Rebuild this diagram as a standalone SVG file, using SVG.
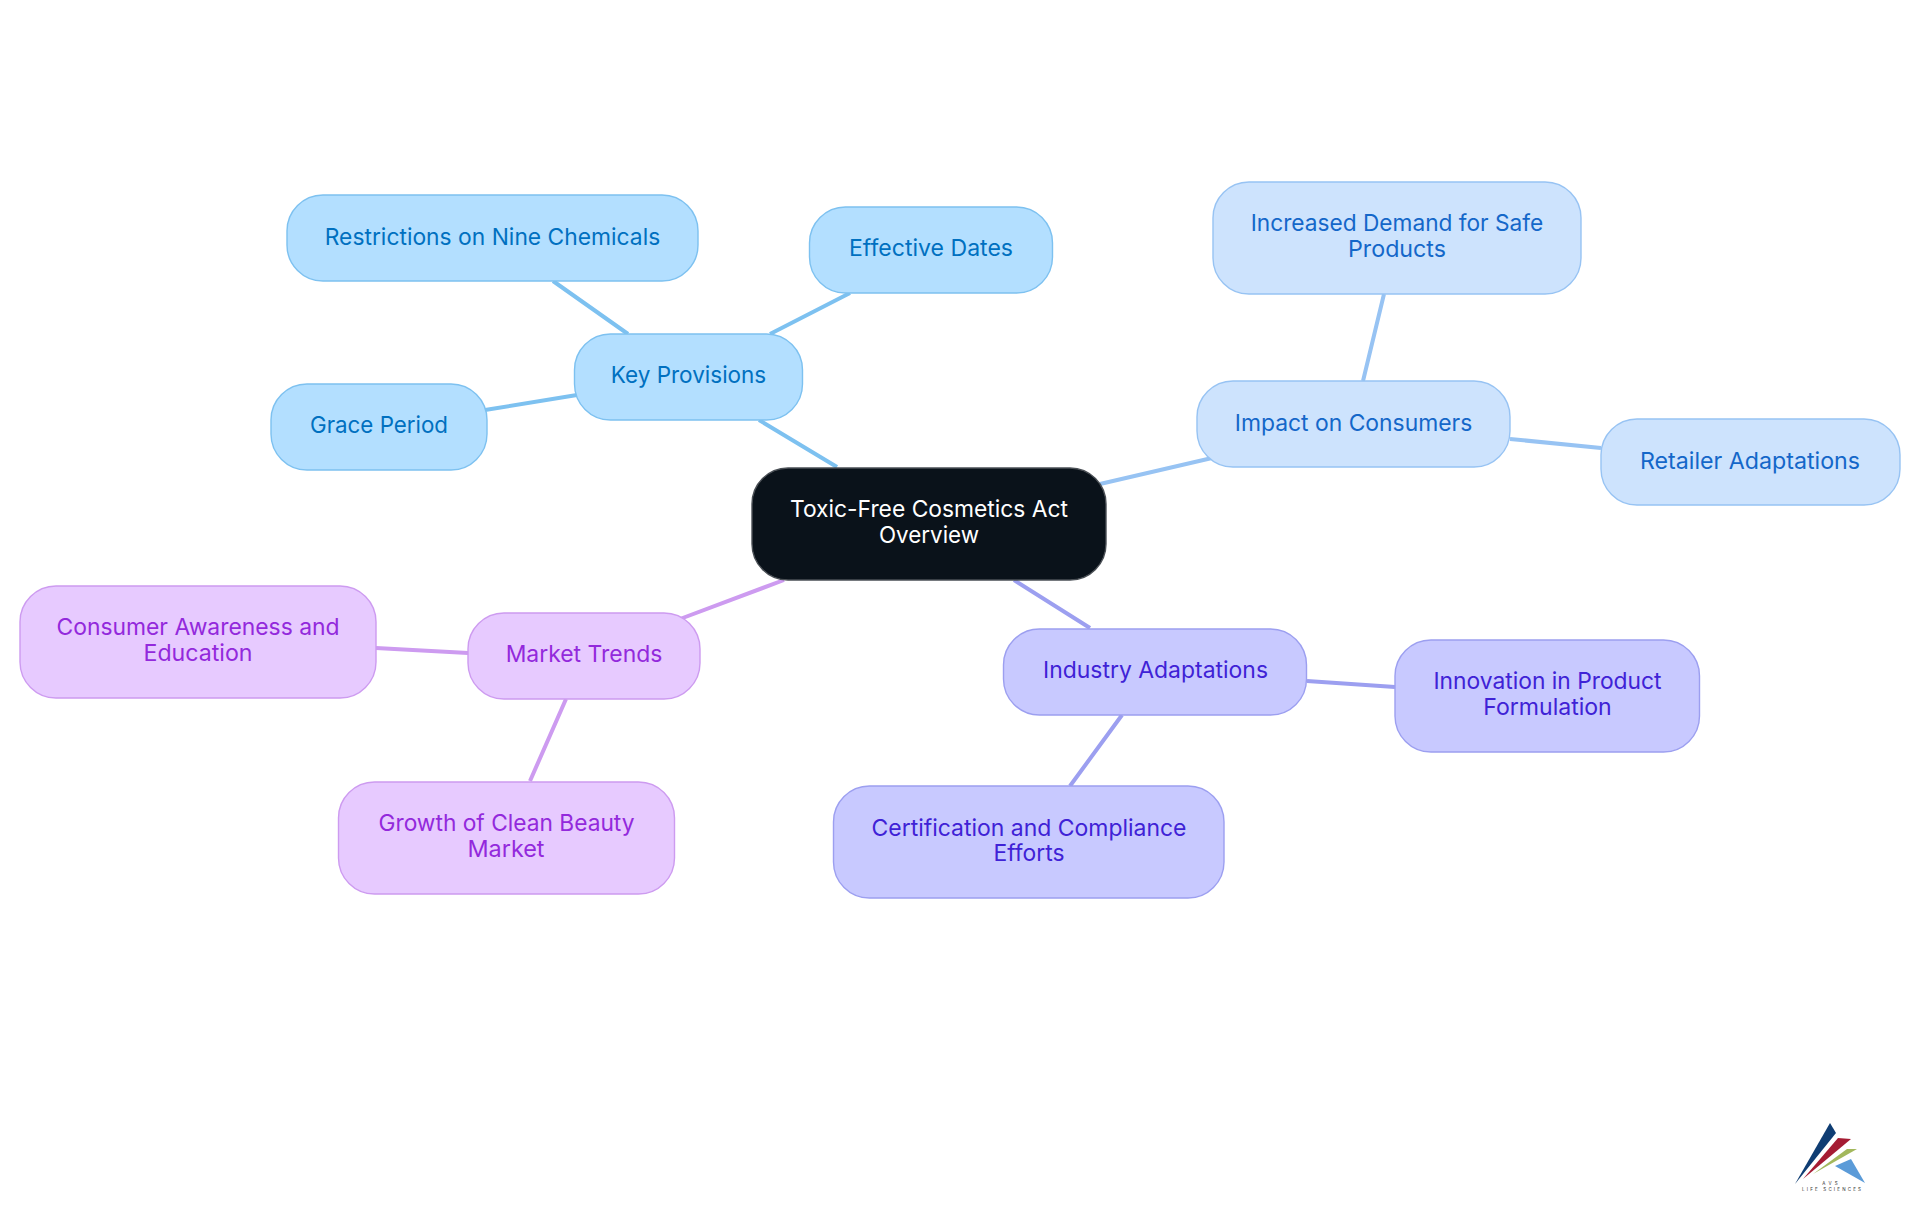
<svg xmlns="http://www.w3.org/2000/svg" width="1920" height="1215" viewBox="0 0 1920 1215">
<style>
text{font-family:Inter,"Noto Sans","Liberation Sans",sans-serif;font-size:22.8px;font-weight:400;text-anchor:middle}
rect{stroke-width:1.4}
.c{fill:none;stroke-width:4}
.root rect{fill:#0a121a;stroke:#4a4f55}.root text{fill:#fff}
.a rect{fill:#b3dfff;stroke:#7dc1f0}.a text{fill:#0070c0}
.b rect{fill:#cde3fd;stroke:#97c3f3}.b text{fill:#1467c9}
.d rect{fill:#c8c9ff;stroke:#9c9ff0}.d text{fill:#3f22d6}
.e rect{fill:#e7caff;stroke:#cd9bf0}.e text{fill:#9329dc}
.l{font-size:4.500px;font-weight:400;fill:#333}
</style>
<rect width="1920" height="1215" fill="#fff" style="stroke:none"/>
<g id="connectors">
<path class="c" stroke="#7dc1f0" d="M837 467L759 420M628 334L553 281M770 334L850 293M577 395L485 410"/>
<path class="c" stroke="#97c3f3" d="M1100 484L1212 458M1363 381L1384 294M1510 439L1601 448"/>
<path class="c" stroke="#9c9ff0" d="M1014 580L1090 628M1307 681L1395 687M1122 715L1070 786"/>
<path class="c" stroke="#cd9bf0" d="M784 580L680 619M468 653L376 648M566 699L530 781"/>
</g>
<g id="root" class="root"><rect x="752" y="468" width="354" height="112" rx="36"/><text x="929" y="517" textLength="278" lengthAdjust="spacingAndGlyphs">Toxic-Free Cosmetics Act</text><text x="929" y="543" textLength="100" lengthAdjust="spacingAndGlyphs">Overview</text></g>
<g id="key-provisions" class="a"><rect x="574.500" y="334" width="228" height="86" rx="36"/><text x="688.500" y="383" textLength="155.500" lengthAdjust="spacingAndGlyphs">Key Provisions</text></g>
<g id="restrictions" class="a"><rect x="287" y="195" width="411" height="86" rx="36"/><text x="492.500" y="244.500" textLength="335.500" lengthAdjust="spacingAndGlyphs">Restrictions on Nine Chemicals</text></g>
<g id="effective-dates" class="a"><rect x="809.500" y="207" width="243" height="86" rx="36"/><text x="931" y="256" textLength="164" lengthAdjust="spacingAndGlyphs">Effective Dates</text></g>
<g id="grace-period" class="a"><rect x="271" y="384" width="216" height="86" rx="36"/><text x="379" y="433" textLength="138" lengthAdjust="spacingAndGlyphs">Grace Period</text></g>
<g id="impact" class="b"><rect x="1197" y="381" width="313" height="86" rx="36"/><text x="1353.500" y="431" textLength="237.500" lengthAdjust="spacingAndGlyphs">Impact on Consumers</text></g>
<g id="increased-demand" class="b"><rect x="1213" y="182" width="368" height="112" rx="36"/><text x="1397" y="231" textLength="292.600" lengthAdjust="spacingAndGlyphs">Increased Demand for Safe</text><text x="1397" y="257" textLength="98" lengthAdjust="spacingAndGlyphs">Products</text></g>
<g id="retailer" class="b"><rect x="1601" y="419" width="299" height="86" rx="36"/><text x="1750" y="469" textLength="220" lengthAdjust="spacingAndGlyphs">Retailer Adaptations</text></g>
<g id="industry" class="d"><rect x="1003.500" y="629" width="303" height="86" rx="36"/><text x="1155.500" y="678" textLength="225" lengthAdjust="spacingAndGlyphs">Industry Adaptations</text></g>
<g id="innovation" class="d"><rect x="1395" y="640" width="304.500" height="112" rx="36"/><text x="1547.500" y="689" textLength="228" lengthAdjust="spacingAndGlyphs">Innovation in Product</text><text x="1547.500" y="715" textLength="128.500" lengthAdjust="spacingAndGlyphs">Formulation</text></g>
<g id="certification" class="d"><rect x="833.500" y="786" width="390.500" height="112" rx="36"/><text x="1029" y="836" textLength="315" lengthAdjust="spacingAndGlyphs">Certification and Compliance</text><text x="1029" y="861" textLength="71" lengthAdjust="spacingAndGlyphs">Efforts</text></g>
<g id="market-trends" class="e"><rect x="468" y="613" width="232" height="86" rx="36"/><text x="584" y="662" textLength="156.700" lengthAdjust="spacingAndGlyphs">Market Trends</text></g>
<g id="consumer-awareness" class="e"><rect x="20" y="586" width="356" height="112" rx="36"/><text x="198" y="635" textLength="283" lengthAdjust="spacingAndGlyphs">Consumer Awareness and</text><text x="198" y="661" textLength="109" lengthAdjust="spacingAndGlyphs">Education</text></g>
<g id="clean-beauty" class="e"><rect x="338.500" y="782" width="336" height="112" rx="36"/><text x="506.500" y="831" textLength="256" lengthAdjust="spacingAndGlyphs">Growth of Clean Beauty</text><text x="506" y="857" textLength="77" lengthAdjust="spacingAndGlyphs">Market</text></g>
<g id="logo">
<polygon fill="#0f3d73" points="1830,1123 1836,1133 1795,1184"/>
<polygon fill="#a51c33" points="1838,1138 1851,1139 1803,1179"/>
<polygon fill="#a3b85c" points="1847,1149 1857,1149 1813,1174"/>
<polygon fill="#5b9bd8" points="1851,1159 1865,1183 1835,1166"/>
<text class="l" x="1830" y="1185" textLength="15.500">AVS</text>
<text class="l" x="1831.500" y="1191" textLength="59">LIFE SCIENCES</text>
</g>
</svg>
